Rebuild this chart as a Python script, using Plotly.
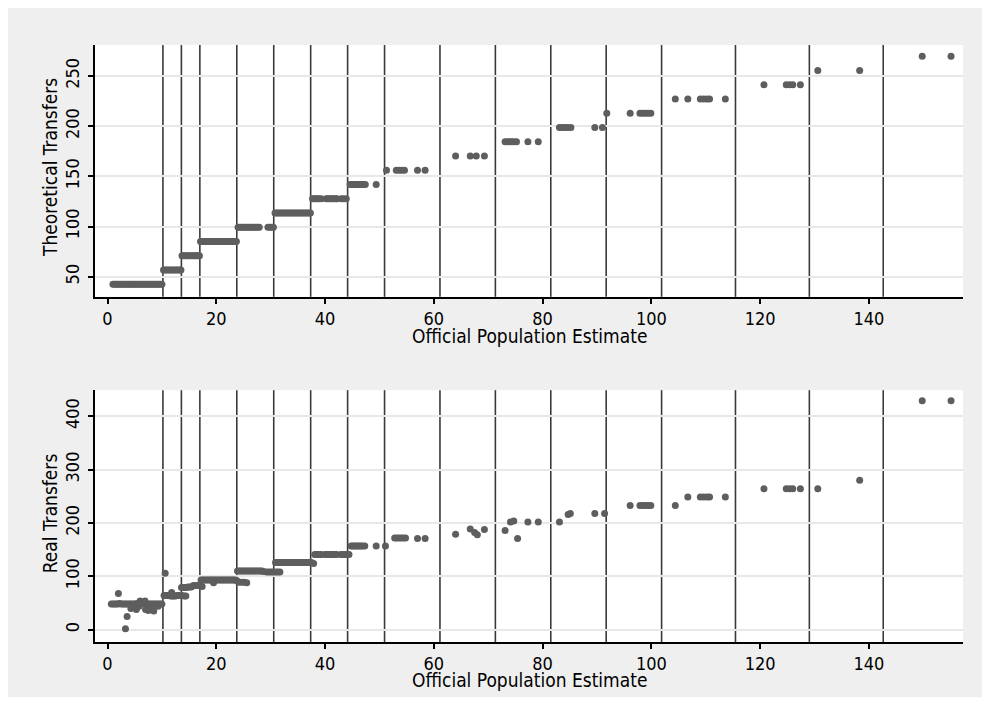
import plotly.graph_objects as go

# ---------------- data ----------------
# Bracket thresholds (official population estimate, thousands)
thresholds = [10.188, 13.584, 16.980, 23.772, 30.564, 37.356, 44.148, 50.940,
              61.128, 71.316, 81.504, 91.692, 101.880, 115.464, 129.048, 142.632]

# Top panel: population and theoretical transfers
pop_theo = [
    # 42.6 band
    1.0, 1.3, 1.6, 1.9, 2.2, 2.5, 2.8, 3.1, 3.4, 3.7, 4.0, 4.3, 4.6, 4.9, 5.2, 5.5,
    5.8, 6.1, 6.4, 6.7, 7.0, 7.3, 7.6, 7.9, 8.2, 8.5, 8.8, 9.1, 9.4, 9.7, 10.0,
    # 56.8 band
    10.3, 10.6, 10.9, 11.2, 11.5, 11.8, 12.1, 12.4, 12.7, 13.0, 13.3, 13.5,
    # 71.0 band
    13.7, 14.0, 14.3, 14.6, 14.9, 15.2, 15.5, 15.8, 16.1, 16.4, 16.7, 16.9,
    # 85.2 band
    17.1, 17.4, 17.7, 18.0, 18.3, 18.6, 18.9, 19.2, 19.5, 19.8, 20.1, 20.4, 20.7,
    21.0, 21.3, 21.6, 21.9, 22.2, 22.5, 22.8, 23.1, 23.4, 23.7,
    # 99.4 band
    24.0, 24.3, 24.6, 24.9, 25.2, 25.5, 25.8, 26.1, 26.4, 26.7, 27.0, 27.3, 27.6, 27.9,
    29.5, 29.8, 30.2, 30.5,
    # 113.6 band
    30.8, 31.1, 31.4, 31.7, 32.0, 32.3, 32.6, 32.9, 33.2, 33.5, 33.8, 34.1, 34.4,
    34.7, 35.0, 35.3, 35.6, 35.9, 36.2, 36.5, 36.8, 37.1, 37.3,
    # 127.8 band
    37.7, 38.0, 38.3, 38.6, 38.9, 39.3, 40.2, 40.5, 40.8, 41.1, 41.4, 41.7, 42.0,
    42.2, 43.0, 43.4, 43.9,
    # 142.0 band
    44.6, 44.9, 45.2, 45.5, 45.8, 46.1, 46.4, 46.7, 47.0, 47.4, 49.4,
    # 156.2 band
    51.3, 53.1, 53.6, 54.1, 54.6, 57.0, 58.4,
    # 170.4 band
    64.0, 66.7, 67.8, 69.3,
    # 184.6 band
    73.1, 73.5, 73.9, 74.3, 74.7, 75.2, 77.3, 79.2,
    # 198.8 band
    83.1, 83.6, 84.1, 84.6, 85.2, 89.6, 91.0,
    # 213.0 band
    91.8, 96.1, 97.9, 98.4, 98.9, 99.4, 99.9,
    # 227.2 band
    104.4, 106.7, 109.0, 109.6, 110.2, 110.7, 113.6,
    # 241.4 band
    120.7, 124.8, 125.4, 126.0, 127.4,
    # 255.6 band
    130.6, 138.3,
    # 269.8 band
    149.8, 155.1,
]
theo = (
    [42.6] * 31 + [56.8] * 12 + [71.0] * 12 + [85.2] * 23 + [99.4] * 18 +
    [113.6] * 23 + [127.8] * 17 + [142.0] * 11 + [156.2] * 7 + [170.4] * 4 +
    [184.6] * 8 + [198.8] * 7 + [213.0] * 7 + [227.2] * 7 + [241.4] * 5 +
    [255.6] * 2 + [269.8] * 2
)

# Bottom panel: population and real transfers
pop_real = [
    0.7, 1.0, 1.3, 1.6, 1.9, 2.2, 2.5, 2.8, 3.1, 3.4, 3.7, 4.0, 4.3, 4.6, 4.9, 5.2,
    5.5, 5.8, 6.1, 6.4, 6.7, 7.0, 7.3, 7.6, 7.9, 8.2, 8.5, 8.8, 9.1, 9.4, 9.7, 10.0,
    2.0, 3.3, 3.6, 4.3, 4.8, 5.3, 5.8, 6.0, 6.9, 7.0, 7.5, 8.0, 8.5, 9.3,
    10.4, 10.7, 11.0, 11.3, 11.6, 11.9, 12.2, 12.5, 12.8, 13.1, 13.4, 13.7, 14.1, 14.4,
    10.6, 11.8,
    13.6, 13.9, 14.2, 14.5, 14.8, 15.1, 15.4, 15.8, 16.1, 16.4, 16.7, 17.0, 17.4,
    17.2, 17.5, 17.8, 18.1, 18.4, 18.7, 19.0, 19.3, 19.6, 19.9, 20.2, 20.5, 20.8, 21.1,
    21.4, 21.7, 22.0, 22.3, 22.6, 22.9, 23.2, 23.5, 23.8, 19.5, 24.1, 24.6, 25.1, 25.6,
    23.9, 24.2, 24.5, 24.8, 25.1, 25.4, 25.7, 26.0, 26.3, 26.6, 26.9, 27.2, 27.5,
    27.8, 28.1, 28.4, 28.7, 29.3, 29.7, 30.1, 30.5, 30.9, 31.3, 31.7,
    30.9, 31.2, 31.5, 31.8, 32.1, 32.4, 32.7, 33.0, 33.3, 33.6, 33.9, 34.2, 34.5,
    34.8, 35.1, 35.4, 35.7, 36.0, 36.3, 36.6, 36.9, 37.2, 37.5, 37.9,
    38.1, 38.4, 38.7, 39.0, 39.3, 40.0, 40.3, 40.6, 40.9, 41.2, 41.5, 41.8, 42.1,
    42.9, 43.2, 43.5, 43.8, 44.1, 44.4,
    44.8, 45.1, 45.4, 45.7, 46.0, 46.3, 46.6, 46.9, 47.3, 49.4, 51.1,
    52.8, 53.2, 53.6, 54.0, 54.4, 54.8, 57.0, 58.4,
    64.0, 66.7, 67.5, 68.0, 69.3,
    73.1, 74.1, 74.7, 75.4, 77.3, 79.2,
    83.1, 84.7, 85.1, 89.6, 91.4,
    96.1, 97.9, 98.4, 98.9, 99.4, 99.9,
    104.4, 106.7, 109.0, 109.6, 110.2, 110.7, 113.6,
    120.7, 124.8, 125.4, 126.0, 127.4, 130.6,
    138.3,
    149.8, 155.1,
]
real = [
    48, 48, 48, 48, 48, 49, 48, 48, 48, 48, 48, 48, 48, 48, 48, 48,
    49, 48, 48, 50, 48, 48, 48, 48, 48, 48, 48, 48, 48, 48, 48, 48,
    68, 2, 25, 40, 42, 38, 44, 54, 54, 38, 36, 40, 35, 44,
    64, 64, 64, 64, 63, 63, 63, 63, 64, 64, 64, 64, 63, 63,
    106, 70,
    79, 79, 79, 79, 80, 80, 80, 83, 83, 83, 83, 83, 81,
    93, 93, 93, 93, 93, 93, 93, 93, 93, 93, 93, 93, 93, 93,
    93, 93, 93, 93, 93, 93, 93, 93, 92, 88, 89, 89, 89, 88,
    110, 110, 110, 110, 110, 110, 110, 110, 110, 110, 110, 110, 110,
    110, 110, 110, 109, 108, 108, 108, 108, 108, 108, 108,
    126, 126, 126, 126, 126, 126, 126, 126, 126, 126, 126, 126, 126,
    126, 126, 126, 126, 126, 126, 126, 126, 126, 126, 124,
    141, 141, 141, 141, 141, 141, 141, 141, 141, 141, 141, 141, 141,
    141, 141, 141, 141, 141, 141,
    157, 157, 157, 157, 157, 157, 157, 157, 157, 157, 157,
    172, 172, 172, 172, 172, 172, 171, 171,
    179, 189, 182, 178, 188,
    186, 202, 204, 171, 202, 202,
    202, 216, 218, 218, 218,
    233, 233, 233, 233, 233, 233,
    233, 249, 249, 249, 249, 249, 249,
    264, 264, 264, 264, 264, 264,
    280,
    429, 429,
]

x_ticks = [0, 20, 40, 60, 80, 100, 120, 140]
theo_ticks = [50, 100, 150, 200, 250]
real_ticks = [0, 100, 200, 300, 400]

x_title = "Official Population Estimate"
y_title_top = "Theoretical Transfers"
y_title_bot = "Real Transfers"

# ---------------- style ----------------
W, H = 990, 725
L, R, T = 87, 35, 37
B = H - 633.7
PLOT_W = W - L - R
PLOT_H = H - T - B
top_dom = [(633.7 - 288.7) / PLOT_H, 1.0]
bot_dom = [0.0, (633.7 - 382.0) / PLOT_H]

BG = "#efefef"
DOT = "#5e5e5e"
VLINE = "#3a3a3a"
GRID = "#e8e8e8"
FONT = "Liberation Sans Narrow, DejaVu Sans Condensed, Arial Narrow, sans-serif"


def px2paper_x(px):
    return (px - L) / PLOT_W


def px2paper_y(py):
    return (H - B - py) / PLOT_H


fig = go.Figure()
marker = dict(color=DOT, size=7, symbol="circle", line=dict(width=0))
fig.add_trace(go.Scatter(x=pop_theo, y=theo, mode="markers", marker=marker,
                         xaxis="x", yaxis="y", showlegend=False))
fig.add_trace(go.Scatter(x=pop_real, y=real, mode="markers", marker=marker,
                         xaxis="x2", yaxis="y2", showlegend=False))

shapes = []
for xr, yr in (("x", "y domain"), ("x2", "y2 domain")):
    for t in thresholds:
        shapes.append(dict(type="line", xref=xr, yref=yr, x0=t, x1=t, y0=0, y1=1,
                           line=dict(color=VLINE, width=1.6), layer="below"))

# white page strip below the gray panel
shapes.append(dict(type="rect", xref="paper", yref="paper",
                   x0=px2paper_x(-5), x1=px2paper_x(W + 5),
                   y0=px2paper_y(H + 5), y1=px2paper_y(689),
                   fillcolor="white", line=dict(width=0), layer="below"))

title_font = dict(family=FONT, size=19, color="black")
annotations = [
    dict(text=x_title, xref="paper", yref="paper", x=0.5, y=px2paper_y(328),
         xanchor="center", yanchor="middle", showarrow=False, font=title_font),
    dict(text=x_title, xref="paper", yref="paper", x=0.5, y=px2paper_y(672),
         xanchor="center", yanchor="middle", showarrow=False, font=title_font),
    dict(text=y_title_top, xref="paper", yref="paper", x=px2paper_x(42),
         y=px2paper_y(160), xanchor="center", yanchor="middle", textangle=-90,
         showarrow=False, font=title_font),
    dict(text=y_title_bot, xref="paper", yref="paper", x=px2paper_x(42),
         y=px2paper_y(505), xanchor="center", yanchor="middle", textangle=-90,
         showarrow=False, font=title_font),
]

tick_font = dict(family=FONT, size=18, color="black")
xcommon = dict(range=[-2.3, 157.3], tickvals=x_ticks, ticks="outside", ticklen=5,
               tickwidth=1.5, tickcolor="black", showline=True, linecolor="black",
               linewidth=1.5, showgrid=False, zeroline=False, tickfont=tick_font)
ycommon = dict(ticks="outside", ticklen=5, tickwidth=1.5, tickcolor="black",
               showline=True, linecolor="black", linewidth=1.5, showgrid=True,
               gridcolor=GRID, gridwidth=1.5, zeroline=False, tickangle=-90,
               tickfont=tick_font, ticklabelstandoff=2)

fig.update_layout(
    width=W, height=H,
    margin=dict(l=L, r=R, t=T, b=B, autoexpand=False),
    paper_bgcolor=BG, plot_bgcolor="white",
    shapes=shapes, annotations=annotations,
    xaxis=dict(domain=[0, 1], anchor="y", **xcommon),
    yaxis=dict(domain=top_dom, anchor="x", range=[30, 281], tickvals=theo_ticks,
               **ycommon),
    xaxis2=dict(domain=[0, 1], anchor="y2", **xcommon),
    yaxis2=dict(domain=bot_dom, anchor="x2", range=[-23, 449], tickvals=real_ticks,
                **ycommon),
)

fig.write_html("out.html")
